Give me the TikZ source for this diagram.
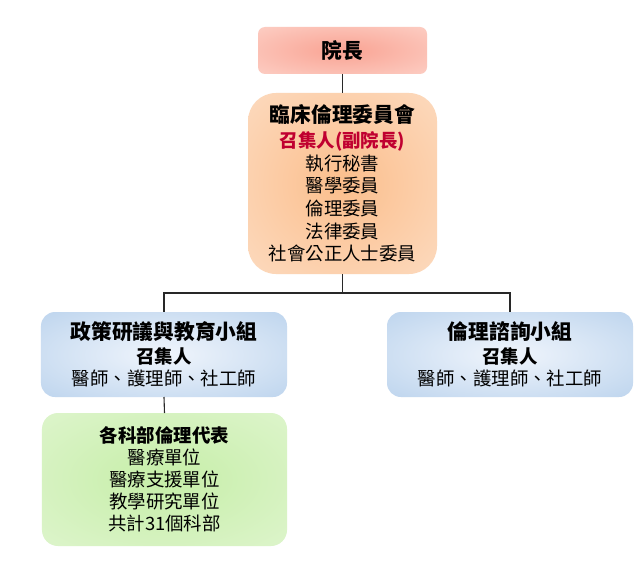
\documentclass[tikz,border=0pt]{standalone}
\usepackage{fontspec}
\setmainfont{Noto Sans CJK TC}
\definecolor{topin}{RGB}{249,163,147}
\definecolor{topout}{RGB}{254,222,214}
\definecolor{comin}{RGB}{251,190,140}
\definecolor{comout}{RGB}{253,229,210}
\definecolor{bluin}{RGB}{240,245,252}
\definecolor{bluout}{RGB}{170,200,232}
\definecolor{grnin}{RGB}{198,238,168}
\definecolor{grnout}{RGB}{230,247,217}
\definecolor{redtxt}{RGB}{192,0,48}
\definecolor{linec}{RGB}{40,40,40}
\pgfdeclareradialshading{topshade}{\pgfpointorigin}{color(0bp)=(topin); color(50bp)=(topout); color(75bp)=(topout)}
\pgfdeclareradialshading{comshade}{\pgfpointorigin}{color(0bp)=(comin); color(50bp)=(comout); color(75bp)=(comout)}
\pgfdeclareradialshading{blushade}{\pgfpointorigin}{color(0bp)=(bluin); color(50bp)=(bluout); color(75bp)=(bluout)}
\pgfdeclareradialshading{grnshade}{\pgfpointorigin}{color(0bp)=(grnin); color(50bp)=(grnout); color(75bp)=(grnout)}
\newcommand{\ttl}{\fontsize{20.8}{23}\selectfont\bfseries}
\newcommand{\bdy}{\fontsize{18.5}{22.8}\selectfont}
\newcommand{\gbdy}{\fontsize{18.5}{22}\selectfont}
\begin{document}
\begin{tikzpicture}[x=1bp,y=-1bp,
  box/.style={inner sep=0pt,outer sep=0pt,align=center,text=black,font=\bdy},
  conn/.style={draw=linec,line width=1.1bp}]
\useasboundingbox[fill=white] (0,0) rectangle (642,575);
\node[box,shading=topshade,rounded corners=7bp,minimum width=169bp,minimum height=47bp] (top) at (342.5,50.5) {\ttl 院長};
\node[box,shading=comshade,rounded corners=28bp,minimum width=189bp,minimum height=181bp] (com) at (342.5,183.5)
  {{\ttl 臨床倫理委員會}\\[2bp]
   {\bfseries\color{redtxt}召集人(副院長)}\\
   執行秘書\\醫學委員\\倫理委員\\法律委員\\社會公正人士委員};
\node[box,shading=blushade,rounded corners=14bp,minimum width=246bp,minimum height=85bp] (pol) at (164,354.5)
  {{\ttl 政策研議與教育小組}\\[1bp]{\bfseries 召集人}\\醫師、護理師、社工師};
\node[box,shading=blushade,rounded corners=14bp,minimum width=246bp,minimum height=85bp] (cons) at (510,354.5)
  {{\ttl 倫理諮詢小組}\\[1bp]{\bfseries 召集人}\\醫師、護理師、社工師};
\node[box,font=\gbdy,shading=grnshade,rounded corners=16bp,minimum width=245bp,minimum height=133bp] (rep) at (164.5,479.5)
  {{\bfseries 各科部倫理代表}\\醫療單位\\醫療支援單位\\教學研究單位\\共計31個科部};
\coordinate (bus) at (342.5,293);
\draw[conn] (top.south) -- (com.north);
\draw[conn] (com.south) -- (bus);
\draw[conn] (bus) -| (pol.north);
\draw[conn] (bus) -| (cons.north);
\draw[conn] (pol.south) -- (rep.north);
\end{tikzpicture}
\end{document}
